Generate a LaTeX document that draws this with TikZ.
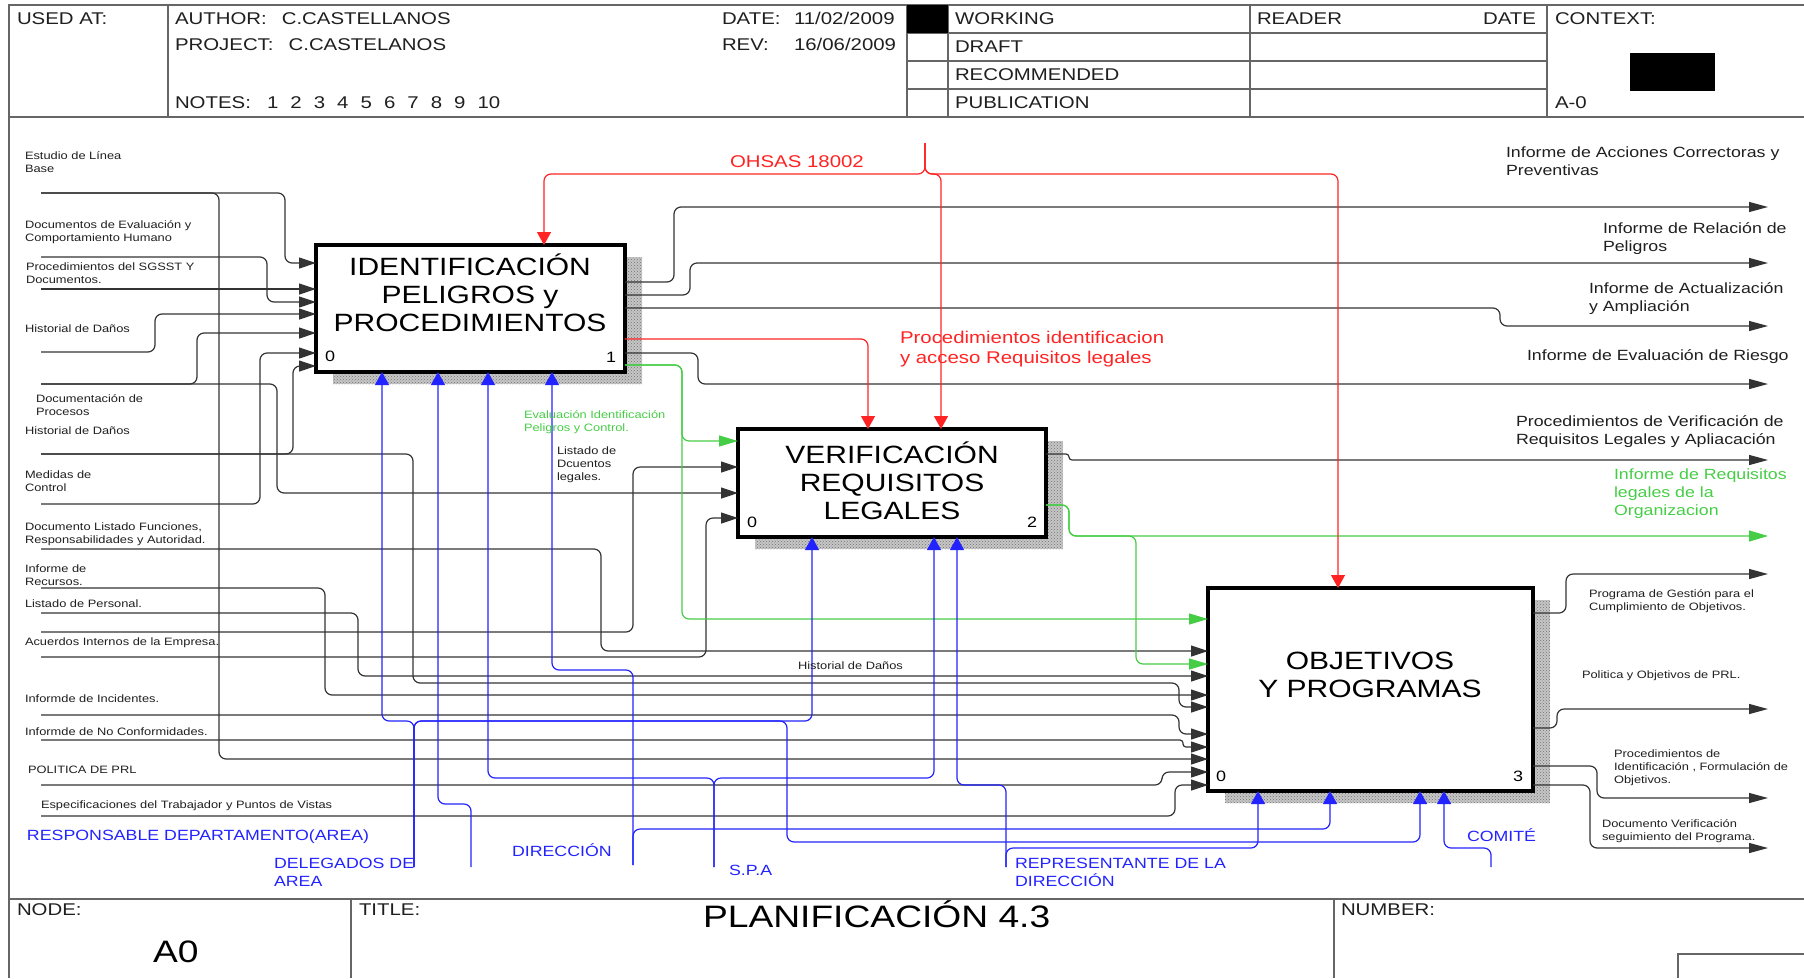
\documentclass[tikz,border=0pt]{standalone}
\usepackage{fontspec}
\setmainfont{Liberation Sans}[FakeStretch=1.2]
\usetikzlibrary{arrows.meta, positioning, patterns, backgrounds}
\definecolor{ctrlred}{RGB}{255,35,35}
\definecolor{mechblue}{RGB}{35,35,255}
\definecolor{outgreen}{RGB}{70,205,70}
\newcommand{\fHead}{\fontsize{17}{20}\selectfont}
\newcommand{\fBox}{\fontsize{25}{28}\selectfont}
\newcommand{\fBig}{\fontsize{31}{36}\selectfont}
\newcommand{\fMid}{\fontsize{14.8}{18}\selectfont}
\newcommand{\fSmall}{\fontsize{10.7}{13}\selectfont}
\newcommand{\fCtrl}{\fontsize{17}{20}\selectfont}
\newcommand{\fNum}{\fontsize{15}{18}\selectfont}
\tikzset{
  every node/.style={inner sep=0pt, outer sep=0pt, text=black!88},
  sheetline/.style={draw=black!60, line width=1.8pt},
  headtxt/.style={anchor=base west, font=\fHead},
  procbox/.style={draw=black, line width=3.5pt, fill=white},
  boxtxt/.style={align=center, font=\fBox, text=black},
  boxnum/.style={anchor=base west, font=\fNum, text=black},
  shadebox/.style={fill=gray!45, postaction={pattern=crosshatch dots, pattern color=black!55}},
  smalllbl/.style={anchor=west, align=left, font=\fSmall},
  midlbl/.style={anchor=west, align=left, font=\fMid},
  flow/.style={draw=black!80, line width=1.2pt, rounded corners=7pt},
  arrin/.style={-{Triangle[length=17pt,width=11pt]}},
  arrout/.style={-{Triangle[length=19pt,width=10pt]}},
  ctrl/.style={flow, draw=ctrlred, -{Triangle[length=13pt,width=14pt]}},
  mech/.style={flow, draw=mechblue, -{Triangle[length=13pt,width=14pt]}},
  gflow/.style={flow, draw=outgreen, -{Triangle[length=19pt,width=11pt]}},
}
\begin{document}
\begin{tikzpicture}[x=1pt, y=-1pt]
\useasboundingbox (0,0) rectangle (1804,978);

% sheet frame
\draw[sheetline] (9,978) -- (9,5) -- (1804,5);
\draw[sheetline] (9,117) -- (1804,117);
\draw[sheetline] (9,899) -- (1804,899);
\foreach \x in {168,907,948,1250,1547}
  \draw[sheetline] (\x,5) -- (\x,117);
\foreach \y in {33,61,89}
  \draw[sheetline] (907,\y) -- (1547,\y);
\fill (907,5) rectangle (948,33);
\fill (1630,53) rectangle (1715,91);
\draw[sheetline] (351,899) -- (351,978);
\draw[sheetline] (1334,899) -- (1334,978);
\draw[sheetline] (1678,978) |- (1804,954);

% header
\node[headtxt] (usedat) at (17,24) {USED AT:};
\node[headtxt] (author) at (175,24) {AUTHOR:\hspace{15pt}C.CASTELLANOS};
\node[headtxt] (project) at (175,50) {PROJECT:\hspace{15pt}C.CASTELANOS};
\node[headtxt] (notes) at (175,108) {NOTES:};
\foreach \k [count=\i from 0] in {1,...,10}
  \node[headtxt] (note\k) at (267+23.4*\i,108) {\k};
\node[headtxt] (date) at (722,24) {\makebox[72pt][l]{DATE:}11/02/2009};
\node[headtxt] (rev) at (722,50) {\makebox[72pt][l]{REV:}16/06/2009};
\node[headtxt] (working) at (955,24) {WORKING};
\node[headtxt] (draft) at (955,52) {DRAFT};
\node[headtxt] (recomm) at (955,80) {RECOMMENDED};
\node[headtxt] (public) at (955,108) {PUBLICATION};
\node[headtxt] (reader) at (1257,24) {READER};
\node[headtxt, anchor=base east] (rdate) at (1536,24) {DATE};
\node[headtxt] (context) at (1555,24) {CONTEXT:};
\node[headtxt] (ctxnode) at (1555,108) {A-0};

% footer
\node[headtxt] (nodelbl) at (17,915) {NODE:};
\node[headtxt] (titlelbl) at (359,915) {TITLE:};
\node[headtxt] (numberlbl) at (1341,915) {NUMBER:};
\node[anchor=base west, font=\fBig, text=black] (nodeid) at (153,962) {A0};
\node[anchor=base west, font=\fBig, text=black] (title) at (703,927) {PLANIFICACIÓN 4.3};

% activity boxes
\node[procbox, minimum width=309, minimum height=127] (b1) at (470.5,308.5) {};
\node[procbox, minimum width=308, minimum height=108] (b2) at (892,483) {};
\node[procbox, minimum width=325, minimum height=203] (b3) at (1370.5,689.5) {};
\begin{scope}[on background layer]
  \foreach \b in {b1,b2,b3}
    \path[shadebox] ([shift={(17,12)}]\b.south west) rectangle ([shift={(17,12)}]\b.north east);
\end{scope}
\node[boxtxt] (b1txt) at (470,292.5) {IDENTIFICACIÓN\\PELIGROS y\\PROCEDIMIENTOS};
\node[boxtxt] (b2txt) at (892,480.5) {VERIFICACIÓN\\REQUISITOS\\LEGALES};
\node[boxtxt] (b3txt) at (1370,675) {OBJETIVOS\\Y PROGRAMAS};
\node[boxnum] (b1in) at ([shift={(9,-11)}]b1.south west) {0};
\node[boxnum] (b1id) at ([shift={(-19,-10)}]b1.south east) {1};
\node[boxnum] (b2in) at ([shift={(9,-10)}]b2.south west) {0};
\node[boxnum] (b2id) at ([shift={(-19,-10)}]b2.south east) {2};
\node[boxnum] (b3in) at ([shift={(8,-10)}]b3.south west) {0};
\node[boxnum] (b3id) at ([shift={(-20,-10)}]b3.south east) {3};

% free ends
\foreach \n/\y in {1/193,2/257,3/289,4/352,5/384,6/454,7/504,8/549,9/588,10/613,11/632,12/657,13/715,14/740,15/785,16/816}
  \coordinate (src\n) at (41,\y);
\foreach \n/\y in {1/207,2/263,3/326,4/384,5/460,6/536,7/574,8/709,9/798,10/848}
  \coordinate (out\n) at (1768,\y);
\coordinate (ohsas) at (925,143);
\coordinate (delegados) at (414,867);
\coordinate (respons) at (471,867);
\coordinate (direccion) at (633,865);
\coordinate (spa) at (714,867);
\coordinate (represent) at (1006,867);
\coordinate (comite) at (1491,867);

% inputs
\draw[flow,arrin] (src1) -| (285,263) -- (b1.west |- 0,263);
\draw[flow,arrin] (src1) -| (219,759) -- (b3.west |- 0,759);
\draw[flow,arrin] (src2) -| (267,302) -- (b1.west |- 0,302);
\draw[flow,arrin] (src3) -- (b1.west |- src3);
\draw[flow,arrin] (src4) -| (155,314) -- (b1.west |- 0,314);
\draw[flow,arrin] (src5) -| (197,333) -- (b1.west |- 0,333);
\draw[flow,arrin] (src5) -| (277,493) -- (b2.west |- 0,493);
\draw[flow,arrin] (src6) -| (293,366) -- (b1.west |- 0,366);
\draw[flow,arrin] (src6) -| (413,683) -| (1179,707) -- (b3.west |- 0,707);
\draw[flow,arrin] (src7) -| (260,353) -- (b1.west |- 0,353);
\draw[flow,arrin] (src8) -| (601,651) -- (b3.west |- 0,651);
\draw[flow,arrin] (src9) -| (325,695) -- (b3.west |- 0,695);
\draw[flow,arrin] (src10) -| (358,676) -- (b3.west |- 0,676);
\draw[flow,arrin] (src11) -| (633,467) -- (b2.west |- 0,467);
\draw[flow,arrin] (src12) -| (706,518) -- (b2.west |- 0,518);
\draw[flow,arrin] (src13) -| (1179,734) -- (b3.west |- 0,734);
\draw[flow,arrin,rounded corners=3pt] (src14) -| (1183,747) -- (b3.west |- 0,747);
\draw[flow,arrin] (src15) -| (1162,772) -- (b3.west |- 0,772);
\draw[flow,arrin] (src16) -| (1175,785) -- (b3.west |- 0,785);

% outputs
\draw[flow,arrout] (b1.east |- 0,282) -| (674,207) -- (out1);
\draw[flow,arrout] (b1.east |- 0,295) -| (690,263) -- (out2);
\draw[flow,arrout] (b1.east |- 0,308) -| (1500,326) -- (out3);
\draw[flow,arrout] (b1.east |- 0,353) -| (698,384) -- (out4);
\draw[ctrl] (b1.east |- 0,339) -| (b2.north -| 868,0);
\draw[gflow] (b1.east |- 0,365) -| (682,441) -- (b2.west |- 0,441);
\draw[gflow] (b1.east |- 0,365) -| (682,619) -- (b3.west |- 0,619);
\draw[flow,arrout,rounded corners=3pt] (b2.east |- 0,454) -| (1069,460) -- (out5);
\draw[gflow] (b2.east |- 0,505) -| (1069,536) -- (out6);
\draw[gflow] (b2.east |- 0,505) -| (1069,536) -| (1136,664) -- (b3.west |- 0,664);
\draw[flow,arrout] (b3.east |- 0,613) -| (1566,574) -- (out7);
\draw[flow,arrout] (b3.east |- 0,728) -| (1557,709) -- (out8);
\draw[flow,arrout] (b3.east |- 0,766) -| (1597,798) -- (out9);
\draw[flow,arrout] (b3.east |- 0,785) -| (1590,848) -- (out10);

% controls
\draw[ctrl] (ohsas) |- (544,174) -- (b1.north -| 544,0);
\draw[ctrl] (ohsas) |- (941,174) -- (b2.north -| 941,0);
\draw[ctrl] (ohsas) |- (1338,174) -- (b3.north -| 1338,0);

% mechanisms
\draw[mech] (delegados) |- (382,721) -- (b1.south -| 382,0);
\draw[mech] (delegados) |- (812,721) -- (b2.south -| 812,0);
\draw[mech] (delegados) |- (787,721) |- (1420,842) -- (b3.south -| 1420,0);
\draw[mech] (respons) |- (438,804) -- (b1.south -| 438,0);
\draw[mech] (direccion) |- (552,670) -- (b1.south -| 552,0);
\draw[mech] (direccion) |- (1330,829) -- (b3.south -| 1330,0);
\draw[mech] (spa) |- (488,778) -- (b1.south -| 488,0);
\draw[mech] (spa) |- (934,778) -- (b2.south -| 934,0);
\draw[mech] (represent) |- (957,785) -- (b2.south -| 957,0);
\draw[mech] (represent) |- (1258,848) -- (b3.south -| 1258,0);
\draw[mech] (comite) |- (1444,848) -- (b3.south -| 1444,0);

% input labels
\node[smalllbl] (lEstudio) at (25,162.5) {Estudio de Línea\\Base};
\node[smalllbl] (lDocEval) at (25,232.5) {Documentos de Evaluación y\\Comportamiento Humano};
\node[smalllbl] (lSgsst) at (26,273) {Procedimientos del SGSST Y\\Documentos.};
\node[smalllbl] (lHist1) at (25,329) {Historial de Daños};
\node[smalllbl] (lDocProc) at (36,405.5) {Documentación de\\Procesos};
\node[smalllbl] (lHist2) at (25,431) {Historial de Daños};
\node[smalllbl] (lMedidas) at (25,481.5) {Medidas de\\Control};
\node[smalllbl] (lFunc) at (25,534.5) {Documento Listado Funciones,\\Responsabilidades y Autoridad.};
\node[smalllbl] (lRecursos) at (25,575.5) {Informe de\\Recursos.};
\node[smalllbl] (lPersonal) at (25,604) {Listado de Personal.};
\node[smalllbl] (lAcuerdos) at (25,643) {Acuerdos Internos de la Empresa.};
\node[smalllbl] (lIncid) at (25,699) {Informde de Incidentes.};
\node[smalllbl] (lNoConf) at (25,732) {Informde de No Conformidades.};
\node[smalllbl] (lPolitica) at (28,770) {POLITICA DE PRL};
\node[smalllbl] (lEspec) at (41,806) {Especificaciones del Trabajador y Puntos de Vistas};
\node[smalllbl] (lHist3) at (798,666) {Historial de Daños};
\node[smalllbl] (lListado) at (557,465) {Listado de\\Dcuentos\\legales.};
\node[smalllbl, text=outgreen] (lEvalId) at (524,422.5) {Evaluación Identificación\\Peligros y Control.};

% output labels
\node[midlbl] (lAcciones) at (1506,161.5) {Informe de Acciones Correctoras y\\Preventivas};
\node[midlbl] (lRelacion) at (1603,239) {Informe de Relación de\\Peligros};
\node[midlbl] (lActual) at (1589,299) {Informe de Actualización\\y Ampliación};
\node[midlbl] (lRiesgo) at (1527,357) {Informe de Evaluación de Riesgo};
\node[midlbl] (lVerif) at (1516,432) {Procedimientos de Verificación de\\Requisitos Legales y Apliacación};
\node[midlbl, text=outgreen] (lReqOrg) at (1614,493.5) {Informe de Requisitos\\legales de la\\Organizacion};
\node[smalllbl] (lPrograma) at (1589,601) {Programa de Gestión para el\\Cumplimiento de Objetivos.};
\node[smalllbl] (lPolObj) at (1582,676) {Politica y Objetivos de PRL.};
\node[smalllbl] (lProcId) at (1614,767.5) {Procedimientos de\\Identificación , Formulación de\\Objetivos.};
\node[smalllbl] (lSeguim) at (1602,831.5) {Documento Verificación\\seguimiento del Programa.};

% control labels
\node[anchor=west, font=\fCtrl, text=ctrlred] (lOhsas) at (730,162) {OHSAS 18002};
\node[anchor=west, align=left, font=\fCtrl, text=ctrlred] (lProcAcc) at (900,349) {Procedimientos identificacion\\y acceso Requisitos legales};

% mechanism labels
\node[midlbl, text=mechblue] (lResp) at (27,837) {RESPONSABLE DEPARTAMENTO(AREA)};
\node[midlbl, text=mechblue] (lDeleg) at (274,872) {DELEGADOS DE\\AREA};
\node[midlbl, text=mechblue] (lDir) at (512,850) {DIRECCIÓN};
\node[midlbl, text=mechblue] (lSpa) at (729,870) {S.P.A};
\node[midlbl, text=mechblue] (lRepr) at (1015,872) {REPRESENTANTE DE LA\\DIRECCIÓN};
\node[midlbl, text=mechblue] (lComite) at (1467,835) {COMITÉ};
\end{tikzpicture}
\end{document}
